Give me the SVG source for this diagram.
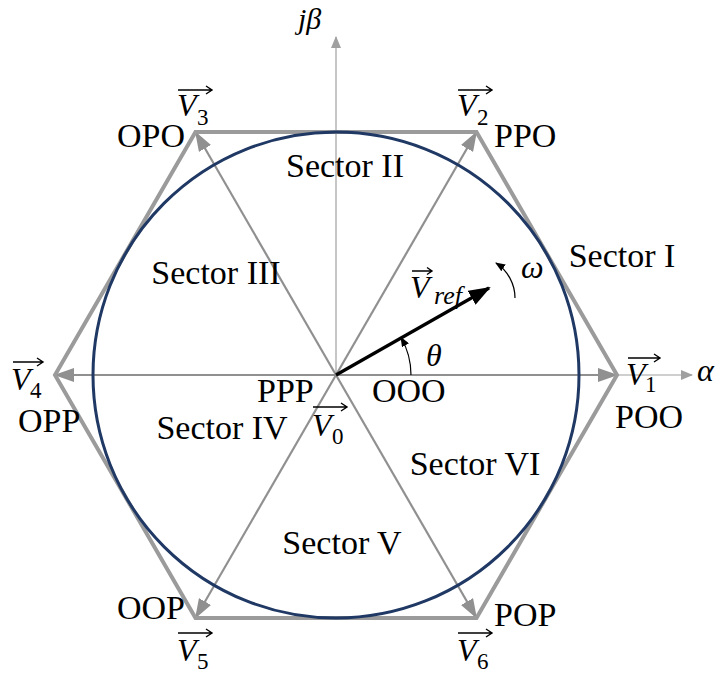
<svg xmlns="http://www.w3.org/2000/svg" width="717" height="674" viewBox="0 0 717 674">
<style>
.t{font-family:"Liberation Serif","Times New Roman",serif;font-size:34px;fill:#000}
.m{font-family:"Liberation Serif","Times New Roman",serif;font-style:italic;font-size:32px;fill:#000}
.s{font-family:"Liberation Serif","Times New Roman",serif;font-size:23px;fill:#000}
.vec{stroke:#909090;stroke-width:2.2;fill:none;marker-end:url(#ga)}
.ax{stroke:#a0a0a0;stroke-width:1.2;fill:none}
.ov{stroke:#000;stroke-width:1.4;fill:none}
</style>
<defs>
<marker id="ga" markerUnits="userSpaceOnUse" markerWidth="20" markerHeight="14" refX="19" refY="7" orient="auto"><path d="M0,0 L20,7 L0,14 z" fill="#909090"/></marker>
<marker id="axa" markerUnits="userSpaceOnUse" markerWidth="12" markerHeight="10" refX="11" refY="5" orient="auto"><path d="M0,0 L12,5 L0,10 z" fill="#a0a0a0"/></marker>
<marker id="ba" markerUnits="userSpaceOnUse" markerWidth="22" markerHeight="16" refX="20" refY="8" orient="auto"><path d="M0,0 L22,8 L0,16 z" fill="#000"/></marker>
<marker id="sa" markerUnits="userSpaceOnUse" markerWidth="10" markerHeight="8" refX="9" refY="4" orient="auto"><path d="M0,0 L10,4 L0,8 z" fill="#000"/></marker>
</defs>
<g id="connectors">
<line class="ax" x1="336" y1="375" x2="692" y2="375" marker-end="url(#axa)"/>
<line class="ax" x1="336" y1="375" x2="336" y2="37" marker-end="url(#axa)"/>
<line class="vec" x1="336" y1="375" x2="617" y2="375"/>
<line class="vec" x1="336" y1="375" x2="476.5" y2="132"/>
<line class="vec" x1="336" y1="375" x2="195.5" y2="132"/>
<line class="vec" x1="336" y1="375" x2="55" y2="375"/>
<line class="vec" x1="336" y1="375" x2="195.5" y2="618"/>
<line class="vec" x1="336" y1="375" x2="476.5" y2="618"/>
<line x1="336" y1="375" x2="489" y2="288" stroke="#000" stroke-width="3.2" marker-end="url(#ba)"/>
<path d="M411,375 A75,75 0 0 0 401,337.5" stroke="#000" stroke-width="1.2" fill="none" marker-end="url(#sa)"/>
<path d="M515,298 A42,42 0 0 0 496,263" stroke="#000" stroke-width="1.2" fill="none" marker-end="url(#sa)"/>
</g>
<g id="hexagon"><polygon points="617,375 476.5,132 195.5,132 55,375 195.5,618 476.5,618" fill="none" stroke="#9b9b9b" stroke-width="4" stroke-linejoin="miter"/></g>
<g id="circle"><circle cx="336" cy="375" r="243" fill="none" stroke="#1f3864" stroke-width="3"/></g>
<g id="sectors">
<text class="t" x="345" y="177" text-anchor="middle">Sector II</text>
<text class="t" x="622" y="267" text-anchor="middle">Sector I</text>
<text class="t" x="216" y="284" text-anchor="middle">Sector III</text>
<text class="t" x="222" y="439" text-anchor="middle">Sector IV</text>
<text class="t" x="342" y="554" text-anchor="middle">Sector V</text>
<text class="t" x="475" y="475" text-anchor="middle">Sector VI</text>
</g>
<g id="states">
<text class="t" x="494" y="147">PPO</text>
<text class="t" x="185" y="147" text-anchor="end">OPO</text>
<text class="t" x="18" y="432">OPP</text>
<text class="t" x="615" y="428">POO</text>
<text class="t" x="257" y="402">PPP</text>
<text class="t" x="372" y="402">OOO</text>
<text class="t" x="185" y="619" text-anchor="end">OOP</text>
<text class="t" x="494" y="626">POP</text>
</g>
<g id="axes-labels">
<text class="m" x="298" y="29" style="font-size:30px">jβ</text>
<text class="m" x="697" y="381">α</text>
<text class="m" x="426" y="366">θ</text>
<text class="m" x="521" y="278">ω</text>
</g>
<g id="v3"><path class="ov" d="M178,90 H212 M206,86 L212,90 L206,94"/><text class="m" x="177" y="116">V</text><text class="s" x="197" y="125">3</text></g>
<g id="v2"><path class="ov" d="M458,90 H492 M486,86 L492,90 L486,94"/><text class="m" x="457" y="116">V</text><text class="s" x="477" y="125">2</text></g>
<g id="v4"><path class="ov" d="M13,362 H43 M37,358 L43,362 L37,366"/><text class="m" x="11" y="390">V</text><text class="s" x="30" y="398">4</text></g>
<g id="v1"><path class="ov" d="M628,358 H660 M654,354 L660,358 L654,362"/><text class="m" x="626" y="385">V</text><text class="s" x="645" y="392">1</text></g>
<g id="v0"><path class="ov" d="M313,407 H347 M341,403 L347,407 L341,411"/><text class="m" x="312" y="436">V</text><text class="s" x="332" y="444">0</text></g>
<g id="v5"><path class="ov" d="M178,633 H212 M206,629 L212,633 L206,637"/><text class="m" x="177" y="661">V</text><text class="s" x="197" y="669">5</text></g>
<g id="v6"><path class="ov" d="M458,633 H492 M486,629 L492,633 L486,637"/><text class="m" x="457" y="661">V</text><text class="s" x="477" y="669">6</text></g>
<g id="vref"><path class="ov" d="M412,271 H432 M427,267.5 L432,271 L427,274.5"/><text class="m" x="410" y="298">V</text><text class="m" x="434" y="304" style="font-size:26px">ref</text></g>
</svg>
